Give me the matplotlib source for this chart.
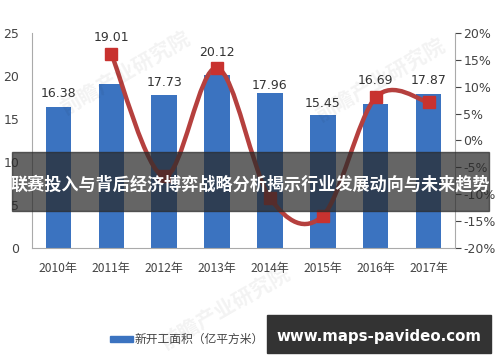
import matplotlib
matplotlib.use("Agg")
import matplotlib.pyplot as plt
from matplotlib.path import Path
from matplotlib.patches import PathPatch, Rectangle
import numpy as np

plt.rcParams['font.family'] = ['Noto Sans CJK SC', 'DejaVu Sans']

years = ['2010年', '2011年', '2012年', '2013年', '2014年', '2015年', '2016年', '2017年']
area = [16.38, 19.01, 17.73, 20.12, 17.96, 15.45, 16.69, 17.87]
growth_years = [1, 2, 3, 4, 5, 6, 7]
growth = [16.1, -6.7, 13.5, -10.7, -14.0, 8.0, 7.1]
left_ticks = [0, 5, 10, 15, 20, 25]
right_ticks = [-20, -15, -10, -5, 0, 5, 10, 15, 20]
legend_bar = '新开工面积（亿平方米）'
banner = '联赛投入与背后经济博弈战略分析揭示行业发展动向与未来趋势'
site = 'www.maps-pavideo.com'

# label offsets above bar tops (pixels)
label_offsets = [14, 47, 13, 22, 8, 12, 24, 14]

fig = plt.figure(figsize=(5, 3.62), dpi=100)
ax = fig.add_axes([0.064, 0.315, 0.846, 0.594])
x = np.arange(len(years))
ax.bar(x, area, width=0.48, color='#3b73c0', zorder=2)
for xi, v, off in zip(x, area, label_offsets):
    ax.annotate(f'{v:.2f}', (xi, v), xytext=(0, off * 0.72), textcoords='offset points',
                ha='center', va='center', fontsize=9, color='#333333', zorder=5,
                family='DejaVu Sans')
ax.set_xlim(-0.5, 7.5)
ax.set_ylim(0, 25)
ax.set_yticks(left_ticks)
ax.set_xticks(x)
ax.set_xticklabels(years)
ax.tick_params(axis='y', length=0, labelsize=9, colors='#444444', pad=9)
ax.tick_params(axis='x', length=0, labelsize=8.7, colors='#444444', pad=10)
for lab in ax.get_yticklabels():
    lab.set_family('DejaVu Sans')
for s in ['top', 'right']:
    ax.spines[s].set_visible(False)
ax.spines['left'].set_color('#aaaaaa')
ax.spines['bottom'].set_color('#aaaaaa')

ax2 = ax.twinx()
ax2.set_ylim(-20, 20)
ax2.set_yticks(right_ticks)
ax2.set_yticklabels([f'{t}%' for t in right_ticks])
ax2.tick_params(axis='y', length=4, labelsize=9, colors='#444444', pad=2)
for lab in ax2.get_yticklabels():
    lab.set_family('DejaVu Sans')
for s in ['top', 'left', 'bottom']:
    ax2.spines[s].set_visible(False)
ax2.spines['right'].set_color('#aaaaaa')

# smoothed line (Catmull-Rom style Bezier through the data points)
P = np.column_stack([growth_years, growth]).astype(float)
verts = [tuple(P[0])]
codes = [Path.MOVETO]
n = len(P)
for i in range(n - 1):
    p0 = P[i - 1] if i > 0 else P[i]
    p1 = P[i]
    p2 = P[i + 1]
    p3 = P[i + 2] if i + 2 < n else P[i + 1]
    c1 = p1 + (p2 - p0) / 6
    c2 = p2 - (p3 - p1) / 6
    verts += [tuple(c1), tuple(c2), tuple(p2)]
    codes += [Path.CURVE4] * 3
ax2.add_patch(PathPatch(Path(verts, codes), facecolor='none', edgecolor='#b5403e', lw=3.2, zorder=3))
ax2.plot(growth_years, growth, ls='none', marker='s', ms=9, color='#c8322f', zorder=4)

# faint watermarks
for (wx, wy) in [(0.25, 0.8), (0.76, 0.78), (0.45, 0.15)]:
    fig.text(wx, wy, '前瞻产业研究院', fontsize=15, color='#000000', alpha=0.05,
             rotation=30, ha='center', va='center', fontweight='bold')

# legend
fig.patches.append(Rectangle((110 / 500, 1 - 342 / 362), 23 / 500, 6 / 362,
                             transform=fig.transFigure, color='#3b73c0', figure=fig))
fig.text(135 / 500, 1 - 339 / 362, legend_bar, fontsize=8.5, color='#444444', va='center', ha='left')

# banner
fig.patches.append(Rectangle((12 / 500, 1 - 211 / 362), 477 / 500, 59 / 362,
                             transform=fig.transFigure, color='#2a2a2a', alpha=0.72, figure=fig, zorder=10))
fig.text(250 / 500, 1 - 184 / 362, banner, fontsize=12.3, color='white', fontweight='bold',
         ha='center', va='center', zorder=11)

# site box
fig.patches.append(Rectangle((267 / 500, 1 - 353 / 362), 224 / 500, 38 / 362,
                             transform=fig.transFigure, color='#333333', figure=fig, zorder=10))
fig.text(379 / 500, 1 - 336 / 362, site, fontsize=10.8, color='white', fontweight='bold',
         ha='center', va='center', zorder=11, family='DejaVu Sans')

fig.savefig('out.png', dpi=100)
